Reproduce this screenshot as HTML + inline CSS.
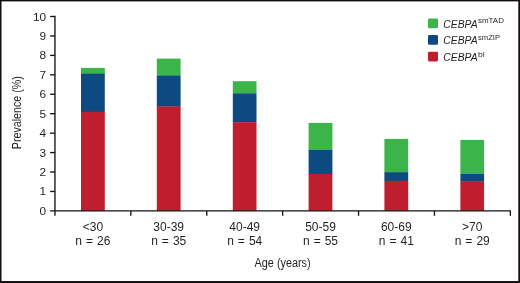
<!DOCTYPE html>
<html><head><meta charset="utf-8"><title>chart</title>
<style>
html,body{margin:0;padding:0;background:#fff;}
body{width:520px;height:283px;overflow:hidden;font-family:"Liberation Sans",sans-serif;}
svg{display:block;will-change:transform;opacity:0.999;}
text{font-family:"Liberation Sans",sans-serif;fill:#231f20;}
</style></head><body>
<svg width="520" height="283" viewBox="0 0 520 283">
<rect x="0" y="0" width="520" height="283" fill="#fff"/>

<rect x="0" y="0" width="520" height="1.4" fill="#120d0e"/>
<rect x="0" y="281.05" width="520" height="1.95" fill="#120d0e"/>
<rect x="0" y="0" width="1.5" height="283" fill="#120d0e"/>
<rect x="518.3" y="0" width="1.7" height="283" fill="#120d0e"/>
<rect x="81.0" y="67.9" width="23.8" height="6.0" fill="#3bb54a"/>
<rect x="81.0" y="73.6" width="23.8" height="38.4" fill="#0c4a80"/>
<rect x="81.0" y="111.7" width="23.8" height="99.2" fill="#be1e2d"/>
<rect x="156.8" y="58.6" width="23.8" height="17.3" fill="#3bb54a"/>
<rect x="156.8" y="75.6" width="23.8" height="31.1" fill="#0c4a80"/>
<rect x="156.8" y="106.4" width="23.8" height="104.5" fill="#be1e2d"/>
<rect x="232.8" y="81.2" width="23.7" height="12.5" fill="#3bb54a"/>
<rect x="232.8" y="93.4" width="23.7" height="29.1" fill="#0c4a80"/>
<rect x="232.8" y="122.2" width="23.7" height="88.7" fill="#be1e2d"/>
<rect x="308.6" y="122.9" width="23.8" height="27.4" fill="#3bb54a"/>
<rect x="308.6" y="150.0" width="23.8" height="24.1" fill="#0c4a80"/>
<rect x="308.6" y="173.8" width="23.8" height="37.1" fill="#be1e2d"/>
<rect x="384.4" y="138.9" width="23.8" height="33.6" fill="#3bb54a"/>
<rect x="384.4" y="172.2" width="23.8" height="8.9" fill="#0c4a80"/>
<rect x="384.4" y="180.8" width="23.8" height="30.1" fill="#be1e2d"/>
<rect x="460.4" y="140.0" width="23.7" height="34.3" fill="#3bb54a"/>
<rect x="460.4" y="174.0" width="23.7" height="7.8" fill="#0c4a80"/>
<rect x="460.4" y="181.5" width="23.7" height="29.4" fill="#be1e2d"/>
<g stroke="#151314" stroke-width="1.35" fill="none">
<path d="M54.95 15.85 V215.80"/>
<path d="M50.1 210.90 H510.95"/>
<path d="M50.1 191.46 H54.95"/>
<path d="M50.1 172.02 H54.95"/>
<path d="M50.1 152.58 H54.95"/>
<path d="M50.1 133.14 H54.95"/>
<path d="M50.1 113.70 H54.95"/>
<path d="M50.1 94.26 H54.95"/>
<path d="M50.1 74.82 H54.95"/>
<path d="M50.1 55.38 H54.95"/>
<path d="M50.1 35.94 H54.95"/>
<path d="M50.1 16.50 H54.95"/>
<path d="M130.85 210.90 V215.80"/>
<path d="M206.75 210.90 V215.80"/>
<path d="M282.65 210.90 V215.80"/>
<path d="M358.55 210.90 V215.80"/>
<path d="M434.45 210.90 V215.80"/>
<path d="M510.35 210.90 V215.80"/>
</g>
<text x="46.1" y="214.90" font-size="11.8" text-anchor="end">0</text>
<text x="46.1" y="195.46" font-size="11.8" text-anchor="end">1</text>
<text x="46.1" y="176.02" font-size="11.8" text-anchor="end">2</text>
<text x="46.1" y="156.58" font-size="11.8" text-anchor="end">3</text>
<text x="46.1" y="137.14" font-size="11.8" text-anchor="end">4</text>
<text x="46.1" y="117.70" font-size="11.8" text-anchor="end">5</text>
<text x="46.1" y="98.26" font-size="11.8" text-anchor="end">6</text>
<text x="46.1" y="78.82" font-size="11.8" text-anchor="end">7</text>
<text x="46.1" y="59.38" font-size="11.8" text-anchor="end">8</text>
<text x="46.1" y="39.94" font-size="11.8" text-anchor="end">9</text>
<text x="46.1" y="20.50" font-size="11.8" text-anchor="end">10</text>
<text x="92.9" y="230.9" font-size="12" text-anchor="middle">&lt;30</text>
<text x="92.9" y="244.9" font-size="12" text-anchor="middle" word-spacing="0.7">n = 26</text>
<text x="168.7" y="230.9" font-size="12" text-anchor="middle">30-39</text>
<text x="168.7" y="244.9" font-size="12" text-anchor="middle" word-spacing="0.7">n = 35</text>
<text x="244.7" y="230.9" font-size="12" text-anchor="middle">40-49</text>
<text x="244.7" y="244.9" font-size="12" text-anchor="middle" word-spacing="0.7">n = 54</text>
<text x="320.5" y="230.9" font-size="12" text-anchor="middle">50-59</text>
<text x="320.5" y="244.9" font-size="12" text-anchor="middle" word-spacing="0.7">n = 55</text>
<text x="396.3" y="230.9" font-size="12" text-anchor="middle">60-69</text>
<text x="396.3" y="244.9" font-size="12" text-anchor="middle" word-spacing="0.7">n = 41</text>
<text x="472.2" y="230.9" font-size="12" text-anchor="middle">&gt;70</text>
<text x="472.2" y="244.9" font-size="12" text-anchor="middle" word-spacing="0.7">n = 29</text>
<text transform="translate(282.6 266.8) scale(0.803 1)" font-size="13.5" text-anchor="middle">Age (years)</text>
<text transform="translate(20.5 112.7) rotate(-90) scale(0.885 1)" font-size="12.1" text-anchor="middle">Prevalence (%)</text>
<rect x="428" y="18.5" width="10" height="9.7" rx="1.3" fill="#3bb54a"/>
<text x="443.3" y="27.5" font-size="10.4" font-style="italic" textLength="34.3" lengthAdjust="spacingAndGlyphs">CEBPA</text>
<text x="478.0" y="23.2" font-size="8.1" textLength="25.9" lengthAdjust="spacingAndGlyphs">smTAD</text>
<rect x="428" y="35.1" width="10" height="9.7" rx="1.3" fill="#0c4a80"/>
<text x="443.3" y="44.1" font-size="10.4" font-style="italic" textLength="34.3" lengthAdjust="spacingAndGlyphs">CEBPA</text>
<text x="478.0" y="39.9" font-size="8.1" textLength="22.0" lengthAdjust="spacingAndGlyphs">smZIP</text>
<rect x="428" y="51.7" width="10" height="9.7" rx="1.3" fill="#be1e2d"/>
<text x="443.3" y="60.7" font-size="10.4" font-style="italic" textLength="34.3" lengthAdjust="spacingAndGlyphs">CEBPA</text>
<text x="478.0" y="56.5" font-size="8.1" textLength="6.6" lengthAdjust="spacingAndGlyphs">bi</text>
</svg></body></html>
